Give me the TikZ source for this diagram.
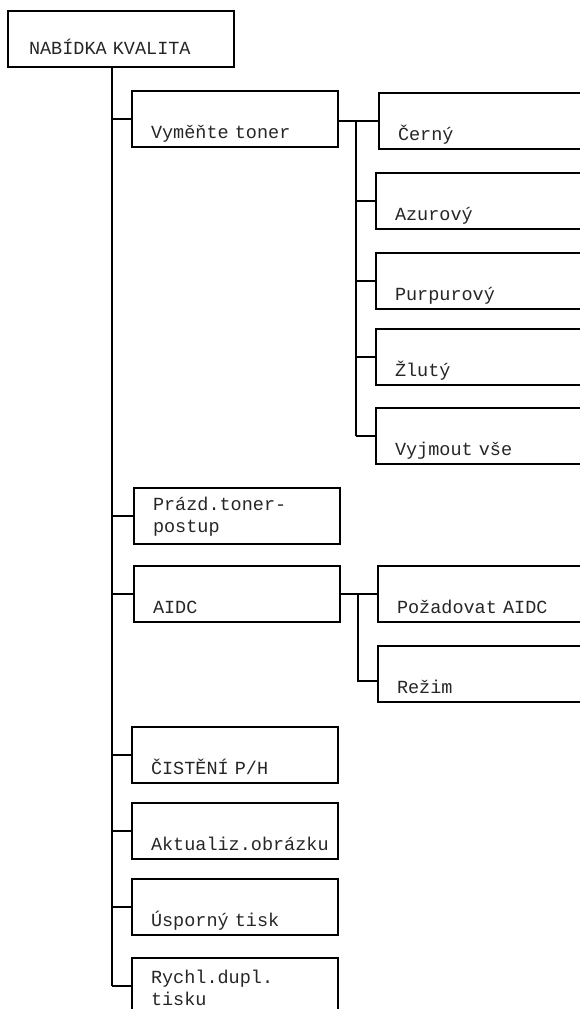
\documentclass[tikz,border=0pt]{standalone}
\usepackage{fontspec}
\setmonofont{Liberation Mono}
\usetikzlibrary{positioning}

\begin{document}
\begin{tikzpicture}[x=1pt, y=-1pt, line width=2pt,
  every node/.style={font=\ttfamily\fontsize{18.5}{22}\selectfont, text=black!85},
  menu/.style={draw=black, anchor=north west, inner xsep=19pt, inner ysep=0pt,
    align=left, text width=168pt, text height=47pt, text depth=9pt},
  menutwo/.style={menu, text height=22pt, text depth=34pt},
  topmenu/.style={menu, inner xsep=21pt, text width=184pt, text height=43pt, text depth=13pt},
  submenu/.style={menu, text width=192pt}]
  \useasboundingbox (0,0) rectangle (580,1009);
  \clip (0,0) rectangle (580,1009);

  % top level
  \node[topmenu] (root) at (7,10) {NABÍDKA KVALITA};

  % first level
  \node[menu] (vt) at (131,90) {Vyměňte toner};
  \node[menutwo] (pt) at (133,487) {Prázd.toner-\\postup};
  \node[menu] (aidc) at (133,565) {AIDC};
  \node[menu] (cist) at (131,726) {ČISTĚNÍ P/H};
  \node[menu] (akt) at (131,802) {Aktualiz.obrázku};
  \node[menu] (usp) at (131,878) {Úsporný tisk};
  \node[menutwo, text height=25pt, text depth=31pt] (rych) at (131,957) {Rychl.dupl.\\tisku};

  % second level
  \node[submenu] (cerny) at (378,92) {Černý};
  \node[submenu] (azur) at (375,172) {Azurový};
  \node[submenu] (purp) at (375,252) {Purpurový};
  \node[submenu] (zlut) at (375,328) {Žlutý};
  \node[submenu] (vyj) at (375,407) {Vyjmout vše};
  \node[submenu] (poz) at (377,565) {Požadovat AIDC};
  \node[submenu] (rezim) at (377,645) {Režim};

  % connectors
  \coordinate (trunk) at (112,0);
  \coordinate (tonerbus) at (356,0);
  \coordinate (aidcbus) at (358,0);
  \draw (root.south -| trunk) -- (trunk |- rych.west);
  \foreach \n in {vt,pt,aidc,cist,akt,usp,rych}
    \draw (trunk |- \n.west) -- (\n.west);
  \draw (vt.east |- cerny.west) -- (cerny.west);
  \draw (tonerbus |- cerny.west) -- (tonerbus |- vyj.west);
  \foreach \n in {azur,purp,zlut,vyj}
    \draw (tonerbus |- \n.west) -- (\n.west);
  \draw (aidc.east) -- (poz.west);
  \draw (aidcbus |- poz.west) |- ([yshift=-7pt]rezim.west);
\end{tikzpicture}
\end{document}
